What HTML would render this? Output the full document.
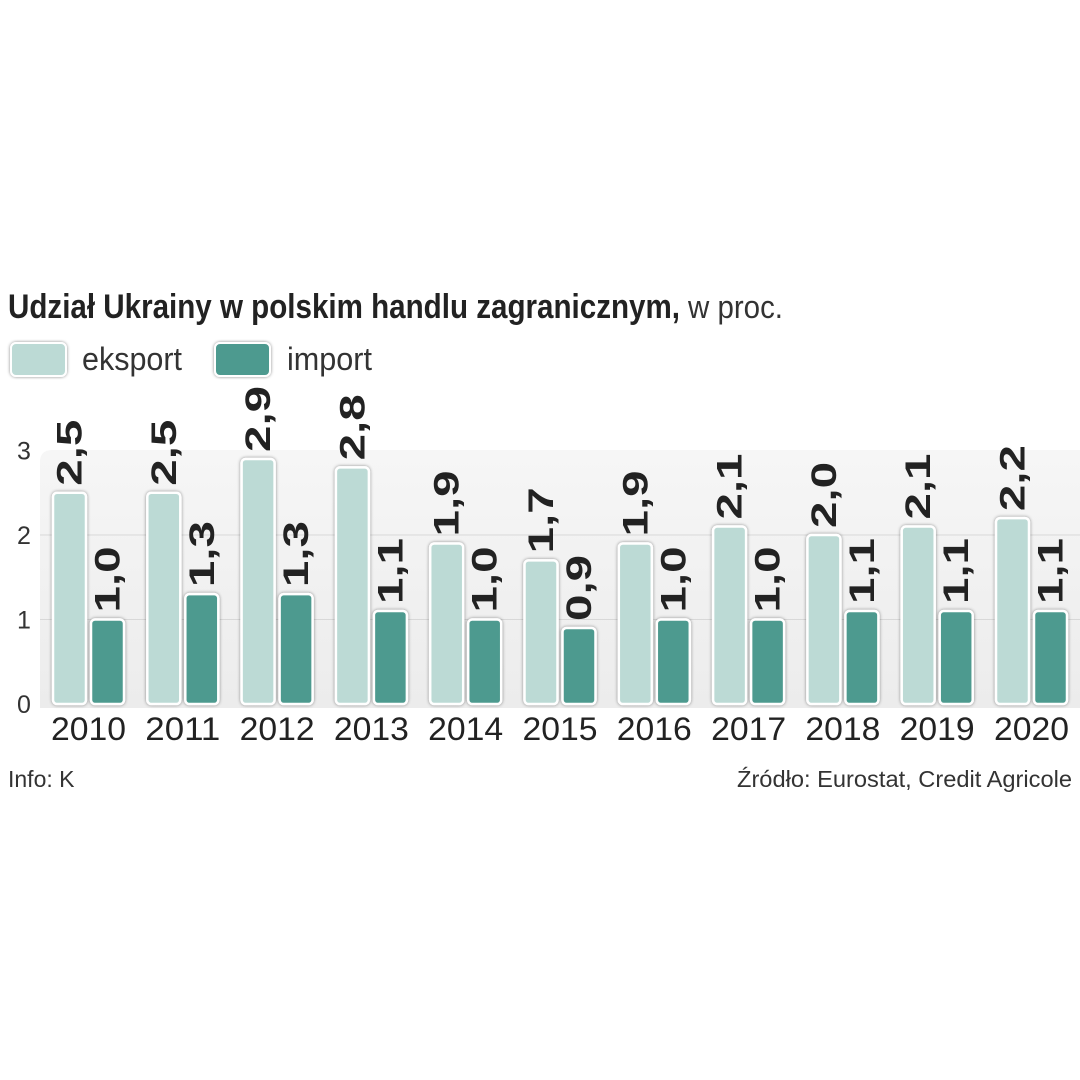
<!DOCTYPE html>
<html><head><meta charset="utf-8"><style>
html,body{margin:0;padding:0;background:#fff;}
svg{display:block;font-family:"Liberation Sans",sans-serif;}
</style></head><body>
<svg id="chart" width="1080" height="1080" viewBox="0 0 1080 1080">
<defs>
<linearGradient id="bg" x1="0" y1="0" x2="0" y2="1"><stop offset="0" stop-color="#f6f6f6"/><stop offset="1" stop-color="#ececec"/></linearGradient>
<filter id="sh" x="-30%" y="-10%" width="160%" height="120%"><feDropShadow dx="0" dy="0" stdDeviation="1.6" flood-color="#000" flood-opacity="0.45"/></filter>
</defs>
<text x="8" y="318" font-size="34" font-weight="bold" fill="#222" textLength="672" lengthAdjust="spacingAndGlyphs">Udział Ukrainy w polskim handlu zagranicznym,</text>
<text x="688" y="318" font-size="32" fill="#333" textLength="95" lengthAdjust="spacingAndGlyphs">w proc.</text>
<g>
<rect x="11" y="343" width="55" height="33" rx="5" fill="#bcdad5" stroke="#fff" stroke-width="2" filter="url(#sh)"/>
<text x="82" y="370" font-size="32" fill="#333" textLength="100" lengthAdjust="spacingAndGlyphs">eksport</text>
<rect x="215" y="343" width="55" height="33" rx="5" fill="#4e9a8f" stroke="#fff" stroke-width="2" filter="url(#sh)"/>
<text x="287" y="370" font-size="32" fill="#333" textLength="85" lengthAdjust="spacingAndGlyphs">import</text>
</g>
<path d="M40,462 Q40,450 52,450 L1080,450 L1080,708 L40,708 Z" fill="url(#bg)"/>
<g id="grid"></g>
<g id="bars"></g>
<text x="8" y="787" font-size="23" fill="#333">Info: K</text>
<text x="1072" y="787" font-size="23" fill="#333" text-anchor="end" textLength="335" lengthAdjust="spacingAndGlyphs">Źródło: Eurostat, Credit Agricole</text>
</svg>
<script>
const years = ["2010","2011","2012","2013","2014","2015","2016","2017","2018","2019","2020"];
const eksport = [2.5,2.5,2.9,2.8,1.9,1.7,1.9,2.1,2.0,2.1,2.2];
const importVals = [1.0,1.3,1.3,1.1,1.0,0.9,1.0,1.0,1.1,1.1,1.1];
const yTicks = [0,1,2,3];

const NS="http://www.w3.org/2000/svg";
const y0=704, unit=84.5;
function yScale(v){return y0-v*unit;}
function xCenter(i){return 88.5+i*94.3;}
function mk(tag,attrs,parent){const e=document.createElementNS(NS,tag);for(const k in attrs)e.setAttribute(k,attrs[k]);parent.appendChild(e);return e;}
const grid=document.getElementById('grid'), bars=document.getElementById('bars');
yTicks.forEach(t=>{
  if(t>0&&t<3){const l=mk('line',{x1:40,x2:1080,y1:yScale(t),y2:yScale(t),stroke:'#d8d8d8','stroke-width':1},grid);
  
  }
  const tx=mk('text',{x:24,y:yScale(t)+9,'font-size':25,fill:'#333','text-anchor':'middle'},grid);
  tx.textContent=t;
  
  
});
function fmt(v){return v.toFixed(1).replace('.',',');}
function bar(x,v,color,name){
  const r=mk('rect',{x:x,y:yScale(v),width:33,height:y0-yScale(v),rx:4,fill:color,stroke:'#fff','stroke-width':2.5,filter:'url(#sh)'},bars);
  
  
  const cx=x+16.5, ty=yScale(v)-7;
  const lb=mk('text',{x:0,y:0,'font-size':35,'font-weight':'bold',fill:'#222',transform:`translate(${cx+12},${ty}) rotate(-90)`,textLength:66,lengthAdjust:'spacingAndGlyphs'},bars);
  lb.textContent=fmt(v);
  
  
}
years.forEach((yr,i)=>{
  const c=xCenter(i);
  bar(c-35.5,eksport[i],'#bcdad5','bar-eksport-'+yr);
  bar(c+2.5,importVals[i],'#4e9a8f','bar-import-'+yr);
  const t=mk('text',{x:c,y:740,'font-size':32,fill:'#222','text-anchor':'middle',textLength:75,lengthAdjust:'spacingAndGlyphs'},bars);
  t.textContent=yr;
  
  
});
</script>
</body></html>
